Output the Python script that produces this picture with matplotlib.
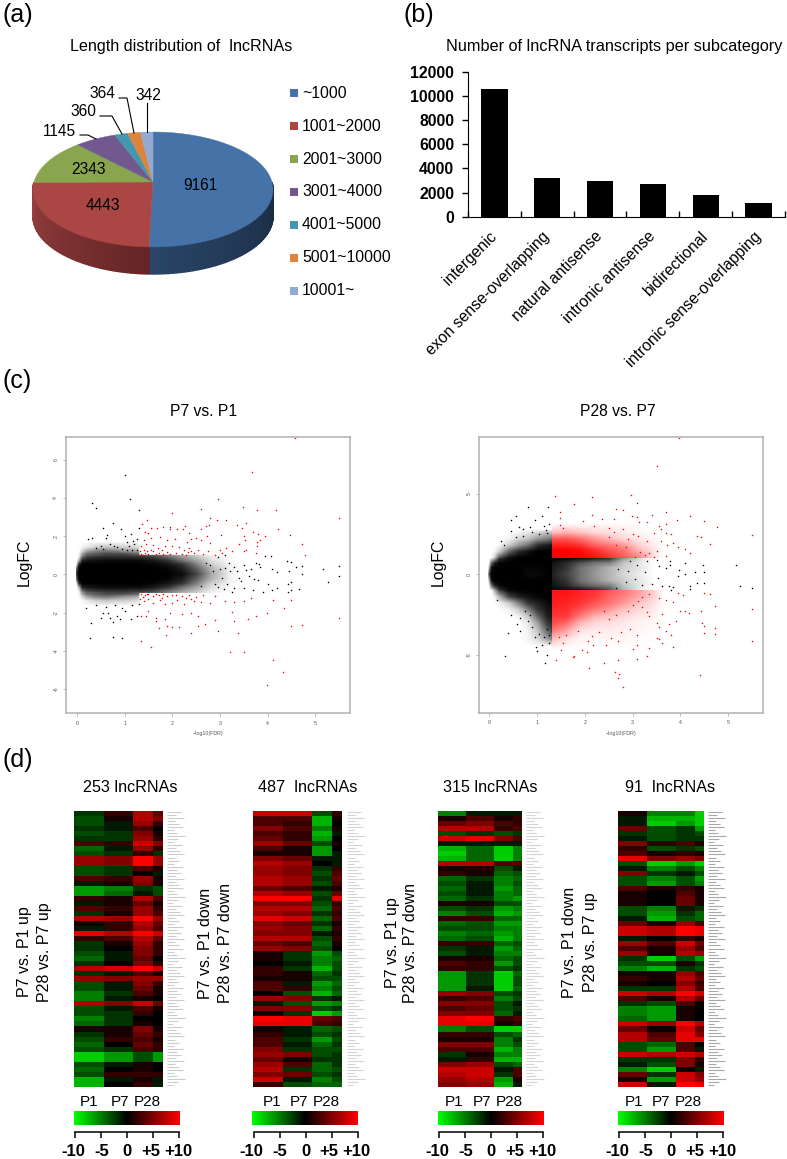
#!/usr/bin/env python3
import numpy as np
import matplotlib
matplotlib.use('Agg')
import matplotlib.pyplot as plt
from matplotlib.colors import LinearSegmentedColormap, to_rgb
from matplotlib.image import NonUniformImage
from matplotlib.transforms import blended_transform_factory

plt.rcParams['font.family'] = ['Liberation Sans', 'DejaVu Sans']

W, H = 787, 1159

# (a) pie
pie_labels = ['~1000', '1001~2000', '2001~3000', '3001~4000', '4001~5000', '5001~10000', '10001~']
pie_values = [9161, 4443, 2343, 1145, 360, 364, 342]
pie_colors = ['#4572a7', '#aa4643', '#89a54e', '#71588f', '#4198af', '#db843d', '#93a9cf']

# (b) bars
bar_labels = ['intergenic', 'exon sense-overlapping', 'natural antisense',
              'intronic antisense', 'bidirectional', 'intronic sense-overlapping']
bar_values = [10600, 3250, 3000, 2680, 1830, 1100]

# (c) left volcano: how dark the dense cloud looks at each node, then the points that can be read one by one
cloud_x = [-.02, .03, .1, .2, .4, .6, .8, 1.0, 1.2, 1.29, 1.31, 1.6, 1.9, 2.2, 2.5, 2.8, 3.2]
p7_abs_y = [0, .3, .5, .7, .9, .98, 1.02, 1.2, 1.4, 1.7]
p7_density = [[.5, 1, 1, 1, 1, 1, 1, 1, 1, 1, 1, 1, 1, .9, .45, .18, .03],
              [.3, 1, 1, 1, 1, 1, 1, 1, 1, 1, 1, 1, .95, .7, .35, .15, .03],
              [.05, .6, 1, 1, 1, 1, 1, 1, 1, 1, 1, .95, .8, .5, .25, .1, .02],
              [0, .15, .7, .8, .85, .9, .9, .9, .9, .9, .9, .75, .5, .3, .18, .07, .01],
              [0, .03, .3, .45, .5, .55, .55, .55, .5, .5, .5, .45, .3, .2, .12, .04, .01],
              [0, .02, .2, .35, .4, .45, .45, .45, .4, .4, .4, .35, .25, .15, .1, .03, 0],
              [0, .02, .2, .35, .4, .45, .45, .45, .4, .4, 0, 0, 0, 0, 0, 0, 0],
              [0, 0, .08, .18, .25, .28, .25, .2, .18, .15, 0, 0, 0, 0, 0, 0, 0],
              [0, 0, .02, .05, .1, .12, .1, .1, .08, .06, 0, 0, 0, 0, 0, 0, 0],
              [0, 0, 0, 0, 0, 0, 0, 0, 0, 0, 0, 0, 0, 0, 0, 0, 0]]
p7_black = [(1.0, 5.18), (1.12, 3.97), (.32, 3.72), (.41, 3.45), (1.3, 3.35), (.75, 2.7), (.54, 2.4), (.93, 2.35),
            (1.3, 2.4), (.63, 2.05), (.6, 1.9), (.32, 1.9), (.24, 1.85), (1.0, 2.0), (1.13, 2.1), (1.25, 1.85),
            (1.05, 1.7), (1.1, 1.5), (1.2, 1.6), (.85, 1.45), (.55, 1.35), (.7, 1.6), (.95, 1.35), (1.05, 1.3),
            (1.25, 1.25), (1.17, 1.75), (.5, 1.5), (.4, 1.4), (.78, 1.5), (1.15, 1.3),
            (2.95, .9), (3.1, 1.0), (3.2, .6), (3.3, .4), (3.5, .5), (3.65, .3), (3.75, .6), (3.85, .4), (3.95, .95),
            (4.07, .95), (4.1, .3), (4.2, .1), (4.4, .7), (4.45, .2), (4.5, .65), (5.17, .3), (5.5, .45), (5.5, -.1),
            (5.27, -.4), (4.73, 0), (4.72, .45), (4.6, .4), (4.5, -.4), (4.5, -.8), (4.42, -.5), (4.42, -.9),
            (4.2, -.7), (4.1, -.8), (4.65, -.75), (.2, -1.78), (.3, -2.55), (.28, -3.35), (.76, -3.3), (.95, -3.35),
            (.5, -2.3), (.7, -2.3), (.75, -2.5), (.85, -2.2), (.9, -2.35), (1.13, -2.35), (1.25, -2.2), (1.15, -1.6),
            (1.3, -1.55), (1.0, -1.9), (.6, -1.7), (.55, -2.0), (.4, -1.6), (.8, -1.6), (.65, -2.0), (.95, -1.75),
            (3.0, .3), (3.05, -.2), (3.15, -.5), (3.22, .2), (3.3, -.7), (3.4, -.2), (3.5, -.7), (3.6, -.1), (3.7, -.8),
            (3.8, -.3), (3.9, -.9), (4.0, -.5), (2.8, .5), (2.9, -.5), (2.7, .6), (2.6, -.6), (3.1, .35), (3.35, .15),
            (3.45, -.35), (3.55, .25), (3.72, -.25), (3.82, .55), (2.95, -.65), (2.85, .2), (3.08, -.75), (3.25, -.9)]
p7_red = [(3.67, 5.35), (2.95, 3.95), (3.49, 3.5), (3.77, 3.38), (4.18, 3.35), (2.6, 3.4), (2.0, 3.2), (5.5, 2.93),
          (1.48, 2.85), (1.37, 2.65), (2.8, 2.93), (2.94, 2.85), (3.13, 2.85), (3.35, 2.6), (3.55, 2.7), (2.78, 2.6),
          (2.7, 2.55), (1.8, 2.5), (1.95, 2.5), (2.27, 2.55), (1.55, 2.4), (1.68, 2.4), (1.95, 2.35), (2.1, 2.35),
          (2.22, 2.35), (2.6, 2.38), (4.22, 2.35), (3.47, 2.4), (3.7, 2.2), (3.8, 2.1), (4.48, 2.05), (3.95, 2.0),
          (3.5, 2.0), (3.03, 2.05), (2.35, 2.15), (2.5, 1.9), (2.6, 1.8), (2.72, 2.0), (1.42, 2.2), (1.5, 2.15),
          (1.55, 1.9), (1.4, 1.8), (1.75, 1.95), (1.9, 1.8), (2.05, 1.85), (2.3, 1.7), (2.4, 1.85), (3.52, 1.8),
          (3.78, 1.7), (3.85, 1.8), (4.73, 1.57), (4.78, 1.02), (3.78, 1.5), (3.4, 1.6), (2.8, 1.65), (1.35, 1.5),
          (1.45, 1.6), (1.6, 1.55), (1.7, 1.4), (1.85, 1.5), (2.0, 1.5), (2.15, 1.45), (2.25, 1.3), (2.35, 1.4),
          (2.55, 1.3), (2.75, 1.2), (3.0, 1.3), (3.12, 1.4), (3.25, 1.2), (3.5, 1.2), (3.55, 1.25), (3.75, 1.1),
          (1.35, 1.05), (1.42, 1.1), (1.5, 1.05), (1.6, 1.2), (1.72, 1.1), (1.8, 1.05), (1.88, 1.15), (1.95, 1.05),
          (2.2, 1.05), (2.32, 1.15), (2.65, 1.05), (2.9, 1.0), (3.05, 1.1), (1.4, 1.3), (1.55, 1.3), (2.45, 1.1),
          (1.38, 1.02), (1.46, 1.2), (1.66, 1.05), (1.78, 1.25), (2.08, 1.12), (2.28, 1.02), (2.4, 1.22), (1.32, 1.2),
          (1.35, -1.05), (1.42, -1.1), (1.5, -1.05), (1.6, -1.15), (1.72, -1.1), (1.8, -1.05), (1.9, -1.15), (2.0, -1.1),
          (2.2, -1.15), (2.35, -1.1), (2.5, -1.2), (2.65, -1.1), (2.9, -1.15), (1.4, -1.4), (1.5, -1.3), (1.6, -1.5),
          (1.75, -1.35), (1.85, -1.55), (2.0, -1.5), (2.1, -1.35), (2.25, -1.55), (2.45, -1.4), (2.6, -1.45), (2.8, -1.5),
          (1.38, -1.2), (1.46, -1.02), (1.66, -1.05), (1.78, -1.22), (2.08, -1.08), (2.28, -1.25), (2.4, -1.3), (1.32, -1.3),
          (3.1, -1.4), (3.3, -1.45), (3.5, -1.4), (3.65, -1.25), (4.12, -1.35), (4.5, -1.35), (1.35, -2.2), (1.45, -2.2),
          (1.5, -1.9), (1.65, -2.3), (1.85, -2.35), (1.95, -2.05), (2.2, -2.1), (2.4, -2.05), (2.55, -2.2), (2.9, -2.4),
          (3.25, -1.95), (3.3, -2.45), (3.58, -2.35), (3.75, -2.2), (3.98, -2.05), (4.35, -1.75), (5.5, -2.3),
          (1.65, -2.45), (1.72, -2.8), (1.9, -2.7), (2.0, -2.75), (2.15, -2.75), (2.4, -3.05), (2.55, -2.7), (2.68, -2.6),
          (2.97, -2.95), (3.38, -3.05), (4.5, -2.7), (4.72, -2.63), (1.34, -3.47), (1.55, -3.78), (1.87, -3.17),
          (3.22, -4.05), (3.5, -4.08), (4.12, -4.47), (4.33, -5.1), (3.98, -5.8), (4.57, 7.15)]

# (c) right volcano, black cloud and red cloud
p28_y = [2.6, 2.2, 1.8, 1.4, 1.02, .98, .7, .4, 0, -.4, -.7, -.98, -1.02, -1.4, -1.8, -2.2, -2.6, -3, -3.5, -4, -4.5]
p28_density = [[0, 0, 0, 0, 0, .02, .05, .08, .12, .12, 0, 0, 0, 0, 0, 0, 0],
               [0, 0, 0, 0, .02, .08, .12, .2, .25, .3, 0, 0, 0, 0, 0, 0, 0],
               [0, 0, 0, .02, .1, .2, .3, .55, .75, .8, 0, 0, 0, 0, 0, 0, 0],
               [0, 0, .02, .1, .35, .6, .85, 1, 1, 1, 0, 0, 0, 0, 0, 0, 0],
               [0, 0, .1, .4, .85, 1, 1, 1, 1, 1, 0, 0, 0, 0, 0, 0, 0],
               [0, .05, .15, .5, .9, 1, 1, 1, 1, 1, 1, .95, .85, .7, .5, .2, .05],
               [0, .3, .7, .95, 1, 1, 1, 1, 1, 1, .85, .6, .4, .3, .25, .12, .04],
               [.1, .8, 1, 1, 1, 1, .95, .95, 1, 1, .75, .5, .3, .22, .15, .1, .04],
               [.4, 1, 1, 1, 1, 1, .9, .9, 1, 1, .7, .45, .3, .2, .15, .08, .03],
               [.1, .8, 1, 1, 1, 1, 1, 1, 1, 1, .75, .5, .3, .22, .15, .1, .04],
               [0, .3, .7, .95, 1, 1, 1, 1, 1, 1, .85, .6, .4, .3, .25, .12, .04],
               [0, .05, .2, .55, .95, 1, 1, 1, 1, 1, .95, .9, .8, .6, .4, .15, .03],
               [0, 0, .15, .45, .9, 1, 1, 1, 1, 1, 0, 0, 0, 0, 0, 0, 0],
               [0, 0, .03, .15, .45, .7, .85, .95, 1, 1, 0, 0, 0, 0, 0, 0, 0],
               [0, 0, 0, .03, .1, .25, .5, .7, .9, .95, 0, 0, 0, 0, 0, 0, 0],
               [0, 0, 0, 0, .03, .1, .25, .5, .8, .85, 0, 0, 0, 0, 0, 0, 0],
               [0, 0, 0, 0, 0, .03, .12, .35, .7, .8, 0, 0, 0, 0, 0, 0, 0],
               [0, 0, 0, 0, 0, 0, .05, .2, .5, .6, 0, 0, 0, 0, 0, 0, 0],
               [0, 0, 0, 0, 0, 0, .03, .12, .35, .45, 0, 0, 0, 0, 0, 0, 0],
               [0, 0, 0, 0, 0, 0, .02, .08, .2, .25, 0, 0, 0, 0, 0, 0, 0],
               [0, 0, 0, 0, 0, 0, 0, 0, 0, 0, 0, 0, 0, 0, 0, 0, 0]]
p28_red_x = [1.29, 1.31, 1.6, 1.9, 2.2, 2.5, 2.8, 3.1, 3.4]
p28_red_y = [3.0, 2.6, 2.2, 1.8, 1.5, 1.02, .98, -.98, -1.02, -1.4, -1.8, -2.2, -2.6, -3, -3.5, -4, -4.5]
p28_red_density = [[0, .03, .04, .03, .03, .03, .02, .01, 0],
                   [0, .12, .15, .12, .08, .06, .04, .02, 0],
                   [0, .4, .4, .3, .2, .14, .08, .05, .02],
                   [0, .75, .7, .55, .35, .28, .2, .1, .04],
                   [0, 1, 1, .9, .6, .4, .3, .15, .06],
                   [0, 1, 1, 1, .85, .6, .4, .25, .08],
                   [0, 0, 0, 0, 0, 0, 0, 0, 0],
                   [0, 0, 0, 0, 0, 0, 0, 0, 0],
                   [0, .85, .85, .7, .55, .4, .3, .2, .1],
                   [0, .8, .8, .65, .5, .35, .25, .18, .1],
                   [0, .75, .7, .55, .4, .3, .2, .12, .07],
                   [0, .65, .6, .42, .28, .2, .12, .08, .05],
                   [0, .55, .5, .28, .16, .12, .08, .05, .03],
                   [0, .45, .35, .15, .08, .07, .05, .03, .02],
                   [0, .3, .18, .06, .04, .04, .03, .02, .01],
                   [0, .14, .07, .02, .02, .02, .02, .01, .01],
                   [0, .04, .02, .01, .01, .01, .01, .01, 0]]
p28_black = [(.8, 4.2), (1.23, 4.2), (.55, 3.6), (.45, 3.4), (.95, 3.4), (1.1, 3.65), (.63, 2.95), (.7, 2.8),
             (.85, 2.95), (1.15, 3.0), (1.18, 2.75), (.45, 2.7), (.25, 2.1), (.3, 1.85), (.55, 2.3), (.7, 2.4), (.9, 2.6),
             (1.05, 2.5), (1.2, 2.55), (1.25, 3.1), (.33, -5.05), (.4, -3.65), (.58, -3.1), (.65, -3.5), (.65, -2.7), (.45, -2.5),
             (.16, -1.6), (.8, -2.9), (.9, -3.3), (.97, -4.5), (1.0, -4.75), (1.2, -5.0), (1.17, -5.5), (1.1, -4.4),
             (1.25, -4.3), (.95, -3.9), (1.05, -3.7), (1.15, -3.9), (1.25, -3.8), (.85, -2.5), (1.2, -3.4), (.75, -2.3),
             (5.17, .6), (5.25, -.7), (5.5, -.85), (4.48, .55), (4.5, .15), (4.3, .15), (4.35, -.55), (4.2, -.7), (4.1, .7),
             (4.1, 0), (3.97, .25), (3.95, -.1), (3.85, -.8), (3.75, -.75), (3.8, -1.0), (3.7, .4), (3.55, .5), (3.52, -.2),
             (3.5, .9), (3.4, -.6), (3.25, .15), (3.2, -.65), (3.1, .6), (3.05, -.3), (2.95, .85), (2.9, .2), (2.85, -.5),
             (2.7, .35), (2.65, -.85), (3.3, .8), (3.62, -.75), (3.78, .6), (3.78, .85), (4.2, -.9), (4.5, -.55)]
p28_red = [(3.5, 6.7), (3.97, 8.5), (2.97, 4.95), (1.37, 4.85), (2.15, 4.8), (3.1, 4.4), (1.77, 4.35), (1.48, 3.85),
           (2.65, 4.05), (2.8, 4.0), (3.7, 3.9), (3.4, 3.7), (2.98, 3.6), (3.08, 3.55), (2.15, 3.7), (2.35, 3.45), (2.6, 3.45),
           (1.47, 3.5), (1.97, 3.3), (3.13, 3.25), (3.3, 3.25), (4.2, 3.6), (3.92, 3.35), (4.5, 3.3), (4.77, 2.95), (1.47, 3.05),
           (1.55, 2.9), (2.2, 3.0), (2.5, 2.9), (2.6, 2.6), (2.8, 2.8), (3.55, 3.0), (3.7, 3.1), (3.6, 2.8), (3.45, 2.55), (3.7, 2.55),
           (3.8, 2.5), (4.35, 2.35), (4.43, 2.3), (5.5, 2.45), (3.12, 2.35), (3.0, 2.5), (2.9, 2.2), (3.3, 2.05), (3.5, 1.45), (3.6, 2.05),
           (3.72, 1.85), (3.85, 1.95), (3.95, 1.7), (4.1, 1.55), (4.2, 1.35), (4.62, 1.9), (3.25, 1.2), (3.35, 1.3), (3.15, 1.4), (3.05, 1.1),
           (2.85, 1.7), (2.65, 1.85), (2.5, 2.3), (3.45, 1.05), (3.7, 1.15),
           (2.8, -7.0), (2.72, -6.2), (2.7, -6.45), (2.62, -6.05), (2.08, -5.85), (4.4, -6.25), (2.4, -5.5), (1.4, -5.35),
           (1.75, -5.15), (1.78, -5.05), (2.7, -5.35), (3.1, -5.25), (3.3, -5.1), (3.0, -4.65), (3.1, -4.4), (3.35, -4.55),
           (2.07, -4.15), (2.17, -4.4), (1.95, -4.7), (2.05, -4.8), (2.45, -4.4), (2.7, -4.15), (2.55, -3.95), (1.55, -4.3), (1.5, -4.7), (1.45, -3.9),
           (1.6, -3.75), (1.85, -3.5), (2.15, -3.85), (2.3, -3.6), (2.75, -3.6), (2.95, -3.4), (3.1, -3.8), (3.5, -3.95), (3.55, -4.0), (3.62, -4.3), (3.85, -4.5),
           (3.8, -3.8), (3.7, -3.5), (3.5, -3.0), (3.55, -3.3), (3.75, -3.1), (3.9, -2.9), (4.45, -3.0), (4.5, -3.2), (4.73, -3.35), (4.73, -3.7), (5.5, -2.15), (5.5, -4.15),
           (4.5, -3.65), (4.42, -2.3), (4.5, -1.15), (4.62, -1.2), (4.73, -2.0), (4.0, -2.3), (4.1, -2.3), (4.17, -2.4), (4.05, -1.3), (3.95, -1.15), (3.85, -1.7), (3.7, -1.6), (3.55, -1.5),
           (3.35, -1.25), (3.2, -1.4), (3.12, -1.65), (3.2, -2.05), (3.3, -2.35), (3.0, -1.9), (2.9, -2.3), (2.65, -2.55), (2.5, -2.75), (2.4, -2.3), (3.35, -2.6), (3.62, -2.45)]

# (d) heatmaps, rows top to bottom: P1, P7, first two P28, last P28
heat_253 = [[-2, 2, 7, 4], [-3, 1, 7, 5], [-3, -1, 6, 2], [-2, -1, 3, 0], [-3, -2, 5, 1], [-2, -2, 6, 2], [3, 2, 8, 5],
            [-4, -1, 6, 2], [-3, -2, 2, -2], [6, 5, 10, 6], [6, 5, 10, 6], [-3, -2, 3, 1], [-3, -2, 0, -1], [3, 2, 6, 1],
            [-1, 1, 5, 1], [-6, -5, -2, -3], [-6, -4, -1, -3], [2, 1, 7, 3], [-1, 1, 4, 1], [3, 2, 6, 2], [-2, 1, 6, 3],
            [7, 6, 10, 6], [1, 2, 7, 4], [-1, 2, 6, 3], [9, 7, 10, 8], [2, 3, 7, 4], [-2, 1, 6, 2], [-2, 0, 5, 2],
            [-3, -1, 5, 2], [-4, -1, 4, 0], [-2, 0, 5, 2], [7, 8, 10, 8], [-2, -1, 3, 1], [6, 5, 6, 6], [-3, -1, 5, 2],
            [-3, -1, 4, 1], [-5, -2, 3, 1], [-5, -1, 1, 0], [7, 5, 8, 4], [-3, -1, 3, 1], [-3, -2, 2, 0], [-5, -2, 0, 0],
            [-4, -2, 1, 0], [1, 1, 5, 1], [-2, 1, 4, 2], [-3, 2, 3, 1], [-4, 0, 4, 2], [-3, -2, 3, 2], [-8, -6, -3, -6],
            [-8, -6, -3, -6], [-3, -1, 1, 0], [-4, 0, 1, 0], [-3, 2, 2, 2], [-7, -1, 1, -1], [-7, 0, 2, -1]]
heat_487 = [[8, 8, -3, 2], [3, 3, -7, 1], [3, 2, -7, 0], [5, 3, -5, 1], [3, 2, -7, -1], [4, 2, -6, 0], [6, 4, -3, 1],
            [3, 1, -6, 0], [1, 1, -6, -1], [5, 4, -1, -1], [7, 6, 0, -1], [6, 5, -2, 2], [6, 5, -3, 3], [7, 6, -2, 4],
            [7, 6, -3, 3], [4, 3, -1, 1], [7, 6, -3, 4], [10, 10, -2, 9], [5, 5, -3, 2], [7, 7, -4, 3], [6, 5, -2, 2],
            [9, 8, -4, 3], [5, 4, -2, 1], [6, 5, -4, 2], [5, 5, -1, 1], [7, 7, -3, 2], [4, 3, -4, 1], [6, 5, -3, 0],
            [1, -2, -6, -3], [1, -2, -5, -4], [0, -1, -5, -3], [2, -2, -7, -3], [2, 1, -4, -2], [1, 1, -3, -3],
            [3, -1, -6, -4], [3, 2, -5, -3], [0, -3, -7, -4], [6, 5, -2, -1], [-1, -3, -6, -5], [5, 5, -3, -2],
            [0, -2, -8, -6], [10, 9, 4, 3], [9, 9, 3, 2], [1, -1, -4, -3], [2, -1, -3, -2], [3, -2, -6, -3], [3, -1, -4, -2],
            [5, -2, -3, -3], [6, 5, -3, -2], [4, 1, -2, -2], [6, 3, -4, -2], [7, -2, -4, -3], [5, 4, -3, -2], [8, -1, -5, -3],
            [2, -3, -4, -4]]
heat_315 = [[-5, -1, -1, -1], [1, 3, 1, 2], [4, 5, 3, 2], [7, 7, 2, 3], [-3, -2, -3, -2], [8, 9, 5, 3], [-1, -1, -1, -1],
            [-7, -4, -8, -5], [-8, -4, -8, -5], [-7, -4, -8, -5], [7, 7, 3, 3], [1, 1, -3, -1], [2, 1, -4, -3], [-4, -2, -5, -4],
            [-3, -1, -5, -3], [-4, -1, -6, -4], [-3, -1, -5, -4], [-4, -2, -5, -6], [1, 1, -3, -3], [-3, -2, -6, -5],
            [-5, -3, -7, -6], [2, 2, -4, -4], [-4, -3, -6, -6], [-3, -3, -5, -5], [-5, -4, -6, -5], [-4, -3, -7, -5],
            [2, 2, -4, -3], [-2, -1, -6, -4], [-3, -1, -5, -5], [1, 1, -4, -3], [3, 2, -6, -3], [2, 2, -3, -2],
            [-6, -2, -8, -4], [-6, -2, -8, -3], [-6, -2, -8, -3], [-6, -1, -8, -4], [6, 5, -3, -2], [2, 3, -5, -3],
            [5, 5, -3, -1], [3, 4, -3, -2], [5, 5, -4, -1], [9, 10, 2, 3], [9, 9, 1, 2], [-5, -3, -8, -8], [2, 2, -3, -4],
            [1, 1, -5, -2], [5, 5, -5, -3], [3, 3, -7, -5], [-2, 1, -5, -5], [-1, 2, -7, -7], [5, 6, -3, -4], [8, 8, -1, 3],
            [7, 8, -2, 3], [6, 7, -6, 1], [5, 6, -7, -1]]
heat_91 = [[1, -5, -5, -8], [-1, -7, -7, -8], [-1, -8, -6, -8], [4, -3, -2, -6], [-2, -3, -2, -3], [-1, -3, -2, -2], [5, 2, 3, 1],
           [2, -3, -2, -3], [3, 1, 2, 1], [9, 5, 6, 5], [-3, -8, -6, -8], [-1, -5, -3, -5], [5, -2, -1, -3], [-3, -5, -3, -6],
           [-3, -6, -3, -5], [3, 1, 2, 1], [1, 0, 3, 1], [1, 0, 4, 1], [1, 0, 4, 1], [-3, -5, -1, -2], [-3, -6, -2, -4],
           [-1, -7, -3, -4], [4, 1, 6, 3], [8, 7, 10, 9], [8, 7, 10, 9], [-1, 0, 2, 1], [6, 3, 8, 4], [3, 1, 6, 3], [6, 1, 7, 6],
           [-2, -8, -3, -6], [-3, -3, 1, -2], [-5, -7, -2, -3], [1, 1, 6, 3], [2, 1, 7, 4], [1, 0, 5, 2], [-2, -2, 7, 3],
           [8, 7, 10, 8], [3, 1, 7, 4], [-2, -3, 3, 0], [-5, -6, 1, 0], [-5, -6, 1, 0], [-4, -6, 1, 0], [8, 6, 10, 7], [4, 0, 8, 4],
           [7, 3, 9, 5], [7, 4, 9, 9], [-3, -4, 3, 0], [-3, -6, 3, -1], [8, 7, 8, 7], [-2, -2, 5, 2], [-1, -3, 5, 1], [-5, -8, 0, -1],
           [4, -2, 8, 5], [1, -6, 8, 6], [8, -1, 10, 9]]
# lengths of the tiny row labels beside the heatmaps, px
row_label_lengths = [14, 9, 17, 8, 12, 16, 7, 10, 18, 11, 6, 15, 9, 13, 17, 8, 12, 7, 16, 10]
cbar_ticks = [-10, -5, 0, 5, 10]
cbar_tick_labels = ['-10', '-5', '0', '+5', '+10']


def px_axes(left, top, right, bottom):
    return fig.add_axes([left / W, 1 - bottom / H, (right - left) / W, (bottom - top) / H])


def project(theta, cx=153, cy=182, persp=0.1304):
    # circle to tilted ellipse, theta clockwise from the top
    u, v = np.sin(theta), np.cos(theta)
    s = 1 + persp * v
    return cx + 119 * u / s, cy - 56.5 * v / s


def draw_pie():
    angles = np.cumsum([0] + pie_values) / sum(pie_values) * 2 * np.pi
    depth = 27
    # side wall, first the blue part and then the red part
    wall = [(angles[0], angles[1], '#18283e', '#2a4568'), (angles[1], angles[2], '#652525', '#984040')]
    for a0, a1, c0, c1 in wall:
        ts = np.linspace(max(a0, np.pi / 2), min(a1, 3 * np.pi / 2), 80)
        xs, ys = project(ts)
        for i in range(len(ts) - 1):
            f = i / (len(ts) - 2)
            col = np.array(to_rgb(c0)) * (1 - f) + np.array(to_rgb(c1)) * f
            over.fill([xs[i], xs[i + 1], xs[i + 1], xs[i]],
                      [ys[i], ys[i + 1], ys[i + 1] + depth, ys[i] + depth], fc=col, ec=col, lw=1.0)
    for i, col in enumerate(pie_colors):
        ts = np.linspace(angles[i], angles[i + 1], 60)
        xs, ys = project(ts)
        over.fill(np.r_[153, xs], np.r_[182, ys], fc=col, ec=col, lw=0.3)

    txt = dict(ha='center', va='center', fontsize=11.2)
    over.text(200, 186, str(pie_values[0]), **txt)
    over.text(103, 205, str(pie_values[1]), **txt)
    over.text(89, 170, str(pie_values[2]), **txt)
    over.text(59, 131, str(pie_values[3]), **txt)
    over.text(83, 112, str(pie_values[4]), **txt)
    over.text(102, 94, str(pie_values[5]), **txt)
    over.text(148, 95, str(pie_values[6]), **txt)
    for lx, ly in [([80, 88, 96], [135, 135, 139]), ([100, 112, 122], [116, 116, 134]),
                   ([119, 127, 134], [98, 98, 133]), ([147, 147], [103, 132])]:
        over.plot(lx, ly, color='black', lw=0.8)
    over.text(181.5, 47, 'Length distribution of  lncRNAs', ha='center', va='center', fontsize=11.6)
    for i, (lab, col) in enumerate(zip(pie_labels, pie_colors)):
        y = 93.3 + i * 32.9
        over.fill([290, 298, 298, 290], [y - 4, y - 4, y + 4, y + 4], color=col, lw=0)
        over.text(302, y, lab, ha='left', va='center', fontsize=11.3)


def draw_bars():
    ax = px_axes(468, 72, 785, 216.7)
    ax.bar(range(len(bar_values)), bar_values, width=0.5, color='black')
    ax.set_xlim(-0.5, 5.5)
    ax.set_ylim(0, 12000)
    ax.spines[['top', 'right']].set_visible(False)
    ax.set_yticks(range(0, 12001, 2000))
    ax.set_yticklabels([str(v) for v in range(0, 12001, 2000)], fontsize=11.3, fontweight='bold')
    ax.set_xticks(np.arange(-0.5, 6, 1))
    ax.set_xticklabels([])
    ax.tick_params(axis='y', length=4, width=1, pad=6)
    ax.tick_params(axis='x', direction='in', length=4, width=1)
    tr = blended_transform_factory(ax.transData, ax.transAxes)
    for i, lab in enumerate(bar_labels):
        ax.text(i, -0.12, lab, transform=tr, rotation=45, rotation_mode='anchor',
                ha='right', va='center', fontsize=11.3)
    over.text(614.5, 47, 'Number of lncRNA transcripts per subcategory', ha='center', va='center', fontsize=11.7)


def volcano_axes(box, xlim, ylim, yticks, title_x, label_x, xlabel_x):
    ax = px_axes(*box)
    ax.set_xlim(*xlim)
    ax.set_ylim(*ylim)
    for s in ax.spines.values():
        s.set_color('#b0b0b0')
        s.set_linewidth(1.1)
    ax.set_xticks(range(6))
    ax.set_yticks(yticks)
    ax.set_yticklabels([str(v) for v in yticks], rotation=90, va='center')
    ax.tick_params(length=2.5, width=0.4, color='#888888', labelsize=3.8, labelcolor='#555555', pad=3)
    over.text(title_x, 411.7, ax_titles[title_x], ha='center', va='center', fontsize=11.3)
    over.text(label_x, 562.5, 'LogFC', rotation=90, ha='center', va='center', fontsize=11.4)
    over.text(xlabel_x, 734, '−log10(FDR)', ha='center', va='center', fontsize=3.8, color='#555555')
    return ax


def plot_points(ax, pts, col):
    pts = np.array(pts)
    ax.plot(pts[:, 0], pts[:, 1], ls='none', marker='o', ms=1.1, mew=0, color=col)


def draw_cloud(ax, xs, ys, dens, cmap):
    # zero border so the image fades out instead of smearing over the whole view
    xs = np.r_[xs[0] - 0.02, xs, xs[-1] + 0.25]
    ys = np.r_[ys[0] - 0.2, ys, ys[-1] + 0.2]
    dens = np.pad(np.array(dens, dtype=float), 1)
    im = NonUniformImage(ax, interpolation='bilinear', cmap=cmap)
    im.set_data(xs, ys, dens)
    im.set_clim(0, 1)
    ax.add_image(im)


def draw_volcano_p7():
    ax = volcano_axes((66, 437, 350, 713), (-0.23, 5.73), (-7.26, 7.19), [-6, -4, -2, 0, 2, 4, 6], 204, 24, 208)
    # the cloud looks the same above and below zero, so the rows are by |logFC|
    rows = np.array(p7_density)
    abs_y = np.array(p7_abs_y)
    ys = np.r_[-abs_y[::-1], abs_y[1:]]
    dens = np.vstack((rows[::-1], rows[1:]))
    draw_cloud(ax, cloud_x, ys, dens, black_fade)
    plot_points(ax, p7_black, 'black')
    plot_points(ax, p7_red, 'red')


def draw_volcano_p28():
    ax = volcano_axes((479, 436.7, 762.7, 712.7), (-0.215, 5.72), (-8.6, 8.55), [-5, 0, 5], 618, 438, 621)
    draw_cloud(ax, cloud_x, p28_y[::-1], p28_density[::-1], black_fade)
    draw_cloud(ax, p28_red_x, p28_red_y[::-1], p28_red_density[::-1], red_fade)
    plot_points(ax, p28_black, 'black')
    plot_points(ax, p28_red, 'red')


def draw_heat(data, left, right, strip, strip_color, cbar_left, title, title_x, names, name_pos, side, side_y):
    ax = px_axes(left, 810.7, right, 1086.7)
    mat = np.array(data)
    ax.pcolormesh([0, 3, 6, 8, 9], np.arange(mat.shape[0] + 1), mat, cmap=gr_cmap, vmin=-10, vmax=10)
    ax.invert_yaxis()
    ax.axis('off')
    # row labels are too small to read, drawn as short strokes
    ys = np.linspace(812, 1085, 91)
    lens = np.resize(row_label_lengths, len(ys))
    over.hlines(ys, strip, strip + lens, colors=strip_color, lw=0.8)

    over.text(title_x, 787.7, title, ha='center', va='center', fontsize=11.6)
    for nm, nx in zip(names, name_pos):
        over.text(nx, 1101.7, nm, ha='center', va='center', fontsize=11)
    for (tx, txt) in side:
        over.text(tx, side_y, txt, rotation=90, ha='center', va='center', fontsize=11.5)

    cax = px_axes(cbar_left, 1111.3, cbar_left + 106, 1125.3)
    grad = np.linspace(-10, 10, 256).reshape(1, -1)
    cax.imshow(grad, aspect='auto', cmap=gr_cmap, vmin=-10, vmax=10, extent=(-10.2, 10.2, 0, 1))
    cax.axis('off')
    tax = px_axes(cbar_left + 1.3, 1131.5, cbar_left + 105.3, 1136)
    tax.set_xlim(-10, 10)
    tax.set_ylim(0, 1)
    tax.spines[['left', 'right', 'bottom']].set_visible(False)
    tax.spines['top'].set_linewidth(1.1)
    tax.set_yticks([])
    tax.set_xticks(cbar_ticks)
    tax.xaxis.set_ticks_position('top')
    tax.tick_params(axis='x', direction='in', length=4.5, width=1.1, labeltop=False)
    for v, lab, off in zip(cbar_ticks, cbar_tick_labels, [-2, 0, 0, -3, -1]):
        over.text(cbar_left + 1.3 + (v + 10) * 5.2 + off, 1151.7, lab, ha='center', va='center',
                  fontsize=12, fontweight='bold')


fig = plt.figure(figsize=(W / 100, H / 100), dpi=100)
over = fig.add_axes([0, 0, 1, 1], zorder=5)
over.set_xlim(0, W)
over.set_ylim(H, 0)
over.axis('off')
over.patch.set_alpha(0)

gr_cmap = LinearSegmentedColormap.from_list('gr', ['#00ff00', '#000000', '#ff0000'])
# the middle of the range is pushed darker, thin speckle still reads as quite dark
black_fade = LinearSegmentedColormap.from_list('bf', [(0, (0, 0, 0, 0)), (.25, (0, 0, 0, .5)), (.5, (0, 0, 0, .8)), (1, (0, 0, 0, 1))])
red_fade = LinearSegmentedColormap.from_list('rf', [(0, (1, 0, 0, 0)), (.25, (1, 0, 0, .5)), (.5, (1, 0, 0, .78)), (1, (1, 0, 0, 1))])
ax_titles = {204: 'P7 vs. P1', 618: 'P28 vs. P7'}

for lab, lx, ly in [('(a)', 18, 15), ('(b)', 419, 15), ('(c)', 17, 381), ('(d)', 18, 760)]:
    over.text(lx, ly, lab, ha='center', va='center', fontsize=18)

draw_pie()
draw_bars()
draw_volcano_p7()
draw_volcano_p28()

names = ['P1', 'P7', 'P28']
draw_heat(heat_253, 74, 162.7, 167, '#cccccc', 74, '253 lncRNAs', 130, names, [89, 120, 147],
          [(25, 'P7 vs. P1 up'), (44, 'P28 vs. P7 up')], 952)
draw_heat(heat_487, 252.7, 342.3, 347, '#d4d4d4', 252.3, '487  lncRNAs', 308, names, [271.7, 299.3, 326],
          [(205, 'P7 vs. P1 down'), (225, 'P28 vs. P7 down')], 943)
draw_heat(heat_315, 438, 522.3, 526, '#d4d4d4', 438, '315 lncRNAs', 490.7, names, [454, 481.7, 509],
          [(392.7, 'P7 vs. P1 up'), (410.7, 'P28 vs. P7 down')], 943)
draw_heat(heat_91, 618, 704.3, 708, '#a8a8a8', 618, '91  lncRNAs', 669.7, names, [633.7, 661.3, 688.7],
          [(570, 'P7 vs. P1 down'), (590, 'P28 vs. P7 up')], 942)

fig.savefig('out.png', dpi=100)
